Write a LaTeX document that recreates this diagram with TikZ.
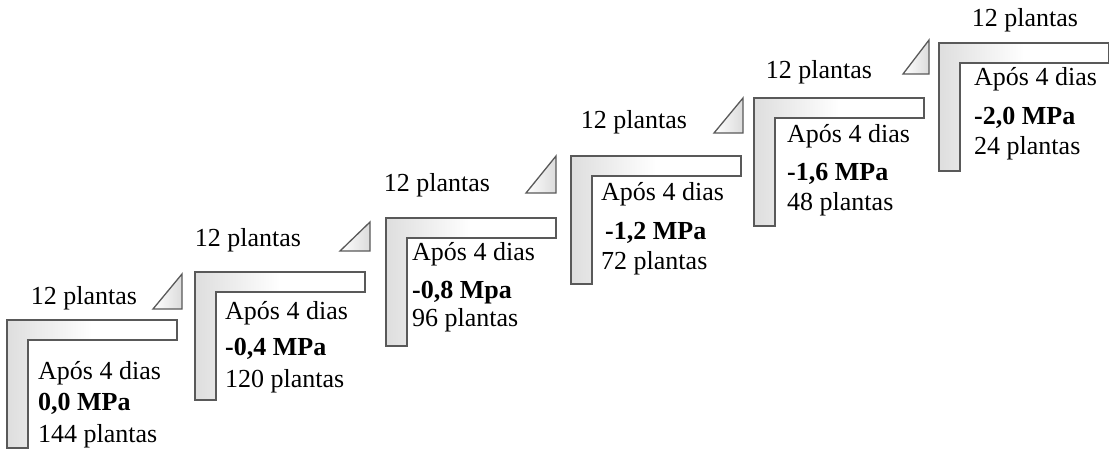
\documentclass[tikz,border=0pt]{standalone}
\usepackage{fontspec}
\setmainfont{Liberation Serif}
\usetikzlibrary{positioning}

\begin{document}
\begin{tikzpicture}[x=1pt, y=-1pt,
    every node/.style={font=\fontsize{26}{30}\selectfont, inner sep=0pt},
    degrau/.style={draw=black!65, line width=1.3pt, line join=miter,
      left color=black!13, right color=white, middle color=white},
    cunha/.style={draw=black!65, line width=1.3pt,
      left color=white, right color=black!14},
    texto/.style={anchor=west, text height=0.7em, text depth=0.2em}]
  \useasboundingbox (0,0) rectangle (1109,461);
  % Steps (outer top-left corner of each L)
  \foreach \i/\lx/\ly in {1/7/320, 2/195/272, 3/386/218, 4/571/156, 5/754/98, 6/939/43} {
    \draw[degrau] (\lx,\ly) -- ++(170,0) -- ++(0,20) -- ++(-149,0)
      -- ++(0,108) -- ++(-21,0) -- cycle;
  }
  % Wedges between steps
  \foreach \bx/\by/\tx/\ty in {153/309/182/274, 340/251/370/222, 526/193/556/156,
      714/133/743/98, 903/74/929/40} {
    \draw[cunha] (\bx,\by) -- (\tx,\ty) -- (\tx,\by) -- cycle;
  }
  % Plants added at each step
  \foreach \i/\px/\py in {1/84/298, 2/248/240, 3/437/185, 4/634/122, 5/819/72, 6/1025/20} {
    \node (lote\i) at (\px,\py) {12 plantas};
  }
  % Text inside each step
  \foreach \i/\ax/\ya/\bx/\yb/\yc/\mp/\n in {1/38/377/38/408/440/{0,0 MPa}/144,
      2/225/317/225/353/385/{-0,4 MPa}/120, 3/412/258/412/296/324/{-0,8 Mpa}/96,
      4/601/198/605/237/267/{-1,2 MPa}/72, 5/787/140/787/178/208/{-1,6 MPa}/48,
      6/974/83/974/122/152/{-2,0 MPa}/24} {
    \node[texto] (apos\i) at (\ax,\ya) {Após 4 dias};
    \node[texto] (mpa\i) at (\bx,\yb) {\textbf{\mp}};
    \node[texto] (np\i) at (\ax,\yc) {\n\ plantas};
  }
\end{tikzpicture}
\end{document}
